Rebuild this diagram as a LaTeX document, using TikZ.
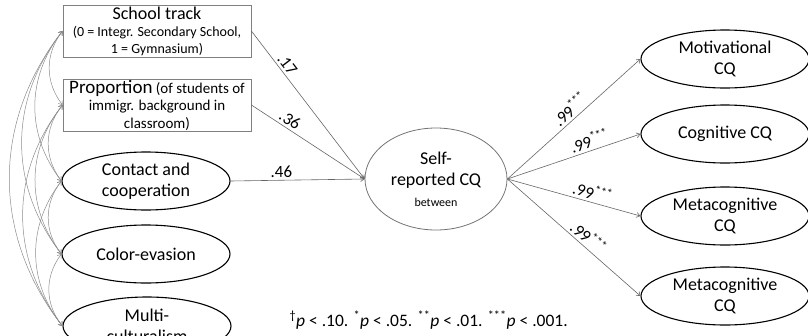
\documentclass[tikz,border=0pt]{standalone}
\usepackage{fontspec}
\setmainfont{Carlito}
\usetikzlibrary{arrows.meta,positioning,shapes.geometric}

\begin{document}
\begin{tikzpicture}[
        x=1pt, y=-1pt,
        >={Straight Barb[length=3.5pt,width=5pt]},
        every node/.style={font=\fontsize{18}{21}\selectfont},
        obsbox/.style={
            draw=black!50,
            line width=0.8pt,
            align=center,
            minimum width=188pt,
            minimum height=52pt,
            inner sep=0pt
        },
        latent/.style={
            draw,
            ellipse,
            line width=1.1pt,
            align=center,
            minimum width=168pt,
            minimum height=58pt,
            inner sep=0pt
        },
        factor/.style={
            draw=black!55,
            ellipse,
            line width=0.8pt,
            align=center,
            minimum width=142pt,
            minimum height=102pt,
            inner sep=0pt
        },
        regpath/.style={->, draw=black!60, line width=0.6pt},
        covpath/.style={<->, draw=black!45, line width=0.5pt, bend right=38},
        coef/.style={sloped, above, inner sep=2.5pt, font=\fontsize{17}{20}\selectfont}
    ]

    \useasboundingbox (0,0) rectangle (808,335);
    \clip (0,0) rectangle (808,335);

    % predictors
    \node[obsbox, font=\fontsize{14}{17}\selectfont] (track) at (157,31) {
        {\fontsize{18}{18}\selectfont School track}\\
        (0 = Integr. Secondary School,\\
        1 = Gymnasium)
    };

    \node[obsbox, font=\fontsize{15}{17.5}\selectfont] (prop) at (157,105) {
        {\fontsize{19}{19}\selectfont Proportion} (of students of\\
        immigr. background in\\
        classroom)
    };

    \node[latent] (contact) at (146,181) {Contact and\\cooperation};
    \node[latent] (colorev) at (146,254) {Color-evasion};
    \node[latent] (multi) at (147,326) {Multi-\\culturalism};

    % second order factor
    \node[factor] (self) at (436,179) {
        Self-\\
        reported CQ\\
        {\fontsize{12}{12}\selectfont between}
    };

    % first order factors
    \node[latent] (motiv) at (725,59) {Motivational\\CQ};
    \node[latent] (cogn) at (725,134) {Cognitive CQ};
    \node[latent] (meta) at (725,216) {Metacognitive\\CQ};
    \node[latent] (metab) at (725,296) {Metacognitive\\CQ};

    \draw[regpath] (track.east) -- node[coef, pos=0.26] {.17} (self.west);
    \draw[regpath] (prop.east) -- node[coef, pos=0.3] {.36} (self.west);
    \draw[regpath] (contact.east) -- node[coef, pos=0.38] {.46} (self.west);

    \draw[regpath] (self.east) -- node[coef, pos=0.52] {.99\textsuperscript{***}} (motiv.west);
    \draw[regpath] (self.east) -- node[coef, pos=0.64] {.99\textsuperscript{***}} (cogn.west);
    \draw[regpath] (self.east) -- node[coef, pos=0.62] {.99\textsuperscript{***}} (meta.west);
    \draw[regpath] (self.east) -- node[coef, pos=0.56] {.99\textsuperscript{***}} (metab.west);

    % correlations among predictors
    \foreach \a/\b in {track/prop, track/contact, track/colorev, track/multi,
                       prop/contact, prop/colorev, prop/multi,
                       contact/colorev, contact/multi, colorev/multi}
        \draw[covpath] (\a.west) to (\b.west);

    \node[anchor=west, font=\fontsize{17.5}{20}\selectfont] (note) at (286,320) {
        \textsuperscript{\textdagger}\textit{p} < .10. \textsuperscript{*}\textit{p} < .05.
        \textsuperscript{**}\textit{p} < .01. \textsuperscript{***}\textit{p} < .001.
    };

\end{tikzpicture}
\end{document}
